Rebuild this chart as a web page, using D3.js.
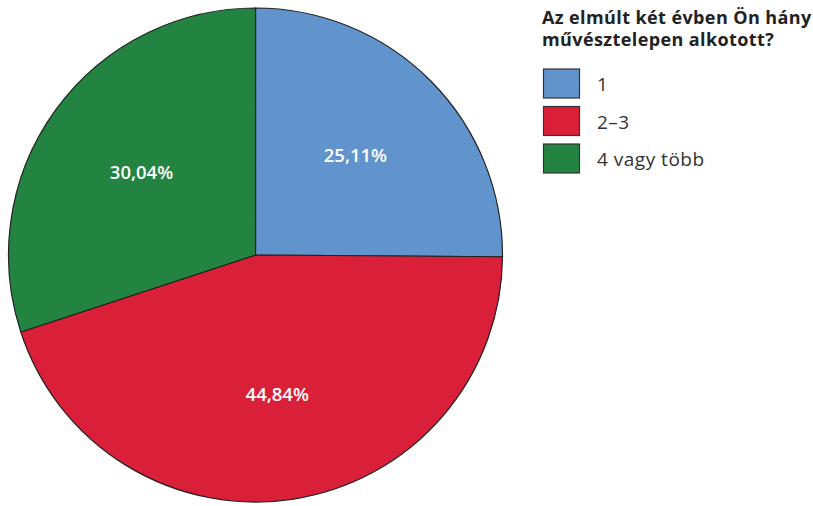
<!DOCTYPE html>
<html>
<head>
<meta charset="utf-8">
<script src="https://cdn.jsdelivr.net/npm/d3@7"></script>
<style>
  body { margin: 0; background: #fff; }
  text { font-family: "Open Sans", Roboto, sans-serif; }
</style>
</head>
<body>
<svg id="chart" width="813" height="506"></svg>
<script>
// adatok
const categories = ["1", "2–3", "4 vagy több"];
const values = [25.11, 44.84, 30.04];
const colors = ["#6194cc", "#da1f38", "#238442"];
const titleLines = ["Az elmúlt két évben Ön hány", "művésztelepen alkotott?"];

const svg = d3.select("#chart");
const cx = 255.5, cy = 255, radius = 247;

const pie = d3.pie().sort(null).value(d => d);
const arc = d3.arc().innerRadius(0).outerRadius(radius);
const labelArc = d3.arc().innerRadius(radius * 0.57).outerRadius(radius * 0.57);

const g = svg.append("g").attr("transform", `translate(${cx},${cy})`);

const slices = g.selectAll(".slice")
    .data(pie(values))
    .enter()
    .append("g")
    .attr("class", "slice");

slices.append("path")
    .attr("d", arc)
    .style("fill", (d, i) => colors[i])
    .style("stroke", "#222")
    .style("stroke-width", 1.2);

slices.append("text")
    .attr("transform", d => `translate(${labelArc.centroid(d)})`)
    .attr("text-anchor", "middle")
    .attr("dy", "0.35em")
    .style("fill", "#fff")
    .style("font-size", "18.5px")
    .style("font-weight", 600)
    .text(d => d.data.toFixed(2).replace(".", ",") + "%");

// jelmagyarázat
const legend = svg.append("g").attr("transform", "translate(542,0)");

legend.selectAll(".title")
    .data(titleLines)
    .enter()
    .append("text")
    .attr("class", "title")
    .attr("x", 0)
    .attr("y", (d, i) => 24 + i * 22)
    .style("font-size", "18px")
    .style("letter-spacing", "0.4px")
    .style("font-weight", "bold")
    .style("fill", "#222")
    .text(d => d);

const items = legend.selectAll(".item")
    .data(categories)
    .enter()
    .append("g")
    .attr("class", "item")
    .attr("transform", (d, i) => `translate(0,${69 + i * 37.5})`);

items.append("rect")
    .attr("x", 1.5)
    .attr("y", 0)
    .attr("width", 36)
    .attr("height", 29)
    .style("fill", (d, i) => colors[i])
    .style("stroke", "#333")
    .style("stroke-width", 1.2);

items.append("text")
    .attr("x", 55)
    .attr("y", 22)
    .style("font-size", "19px")
    .style("letter-spacing", "0.5px")
    .style("fill", "#333")
    .text(d => d);
</script>
</body>
</html>
